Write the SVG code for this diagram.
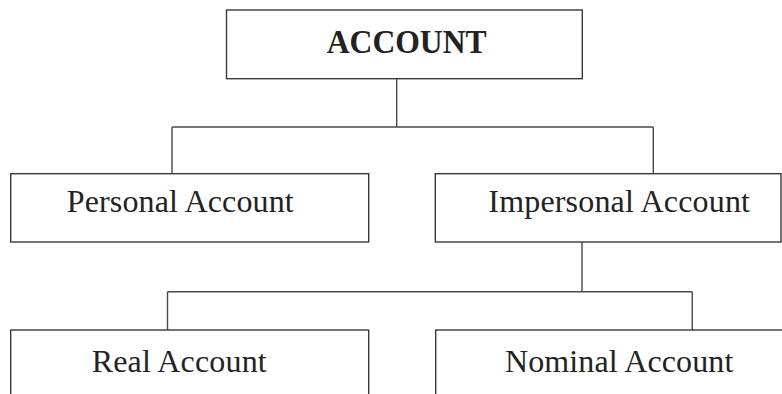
<svg xmlns="http://www.w3.org/2000/svg" width="782" height="394" viewBox="0 0 782 394">
<style>
.box{fill:#fff;stroke:#3a3a3a;stroke-width:1.4}
.con{fill:none;stroke:#4a4a4a;stroke-width:1.4}
.t{font-family:"Liberation Serif","Times New Roman",serif;font-size:32px;fill:#222}
.b{font-weight:bold;font-size:33px}
</style>
<rect width="782" height="394" fill="#fff"/>
<g id="connectors">
<path class="con" d="M396.7,78.7V127M172,127H653.3M172,127V173.7M653.3,127V173.7"/>
<path class="con" d="M582,242V291.7M167.5,291.7H692.3M167.5,291.7V330M692.3,291.7V330"/>
</g>
<g id="account">
<rect class="box" x="226.5" y="10" width="355.8" height="68.7"/>
<text class="t b" x="326.7" y="52.7" textLength="160" lengthAdjust="spacingAndGlyphs">ACCOUNT</text>
</g>
<g id="personal">
<rect class="box" x="10.7" y="173.7" width="358" height="68.3"/>
<text class="t" x="66.7" y="212.3" textLength="227" lengthAdjust="spacing">Personal Account</text>
</g>
<g id="impersonal">
<rect class="box" x="435.3" y="173.7" width="345.7" height="68.3"/>
<text class="t" x="488.3" y="212.3" textLength="261.7" lengthAdjust="spacing">Impersonal Account</text>
</g>
<g id="real">
<rect class="box" x="10.7" y="330" width="358" height="80"/>
<text class="t" x="91.7" y="371.7" textLength="175" lengthAdjust="spacing">Real Account</text>
</g>
<g id="nominal">
<rect class="box" x="435.7" y="330" width="360" height="80"/>
<text class="t" x="505" y="371.7" textLength="228.3" lengthAdjust="spacing">Nominal Account</text>
</g>
</svg>
